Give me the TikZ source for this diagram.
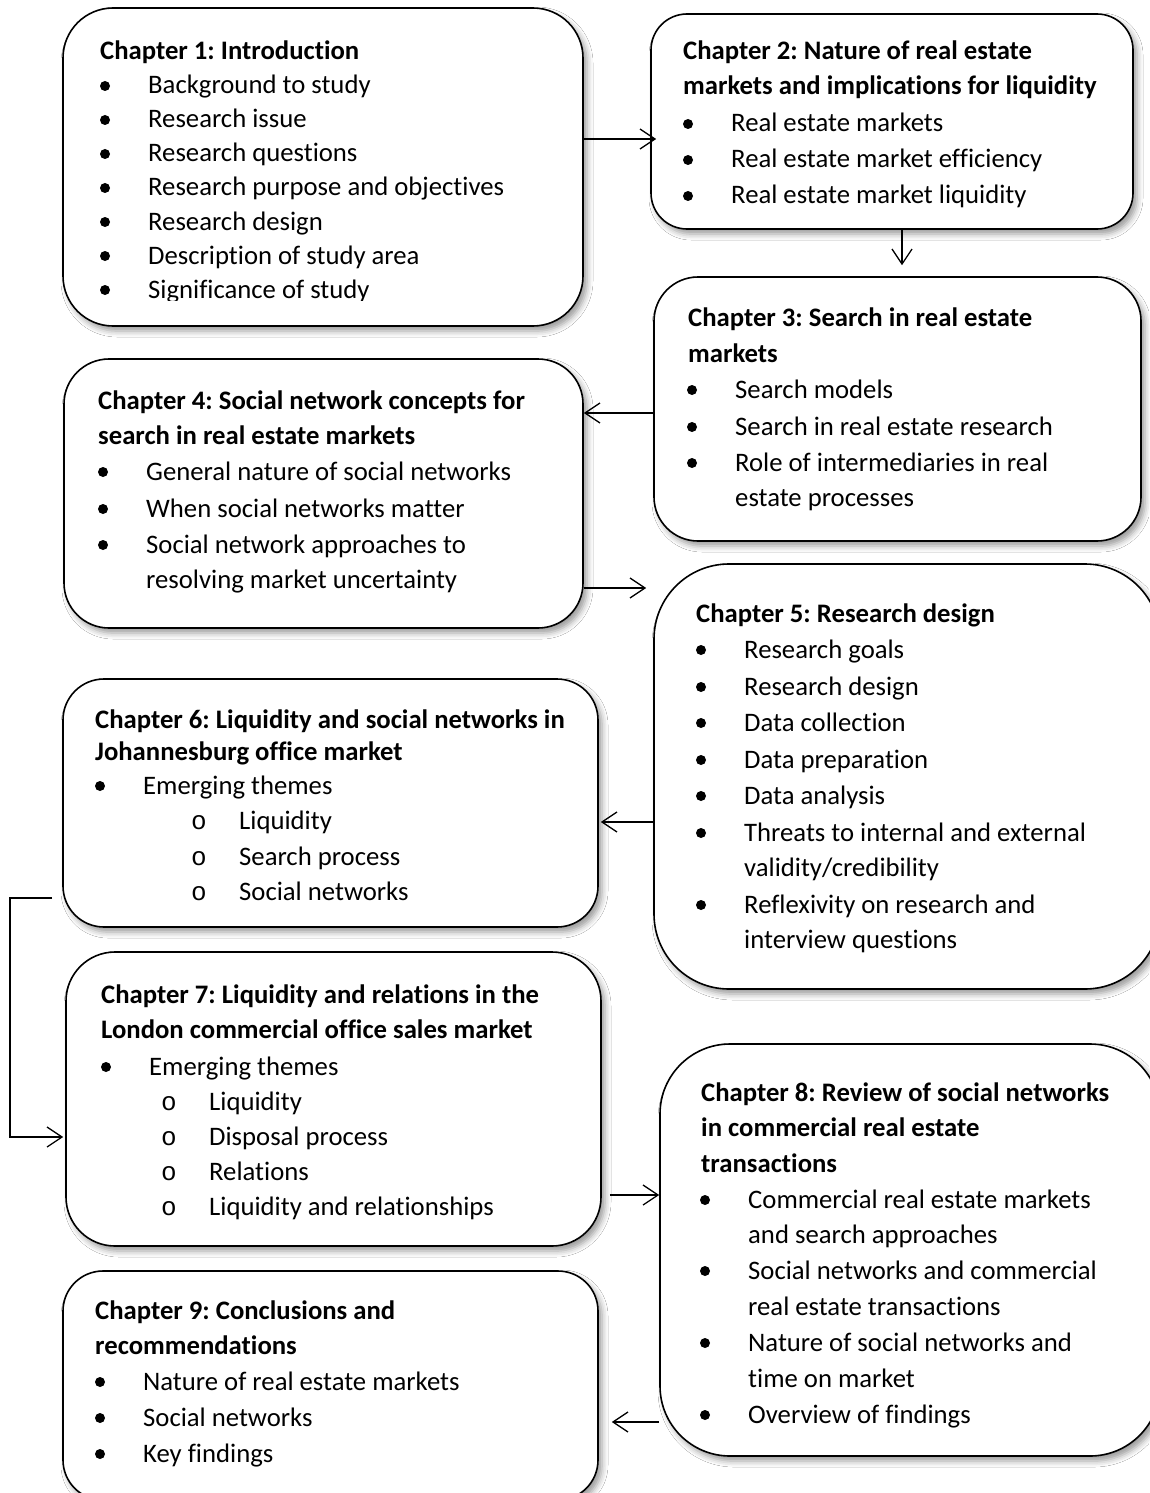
\documentclass[tikz,border=0pt]{standalone}
\usepackage{fontspec}
\setmainfont{Carlito}[Ligatures=NoCommon]
\newfontfamily\monofont{Liberation Mono}
\usetikzlibrary{arrows.meta,shadows.blur,fit}
\frenchspacing

\tikzset{
  chap/.style={draw=black, line width=1.6bp, fill=white, inner sep=0pt,
    rounded corners=#1,
    blur shadow={shadow xshift=4bp, shadow yshift=-5bp,
      shadow blur radius=6bp, shadow opacity=40}},
  txt/.style={anchor=base west, inner sep=0pt,
    font=\fontsize{26.7bp}{31bp}\selectfont},
  hdt/.style={txt, font=\fontsize{26.7bp}{31bp}\selectfont\bfseries},
  dot/.style={circle, fill=black, inner sep=0pt, minimum size=10bp},
  subo/.style={anchor=base, inner sep=0pt,
    font=\monofont\fontsize{26bp}{26bp}\selectfont},
  arr/.style={line width=1.3bp,
    -{Straight Barb[length=15bp,width=20bp,line width=1.3bp]}},
}

% line helpers: name, x, baseline y, text
\newcommand\hdln[4]{\node[hdt] (#1) at (#2,#3) {#4};}
\newcommand\bulln[4]{\node[txt] (#1) at (#2,#3) {#4};
  \node[dot] (#1-b) at ([xshift=-43bp,yshift=8bp]#1.base west) {};}
\newcommand\subln[4]{\node[txt] (#1) at (#2,#3) {#4};
  \node[subo] (#1-b) at ([xshift=-40bp]#1.base west) {o};}
\newcommand\plainln[4]{\node[txt] (#1) at (#2,#3) {#4};}

\begin{document}
\begin{tikzpicture}[x=1bp, y=-1bp]
\useasboundingbox (0,0) rectangle (1149,1493);
\fill[white] (0,0) rectangle (1149,1493);

% chapter boxes
\node[chap=50bp, fit={(63,8) (583,326)}] (c1) {};
\node[chap=36bp, fit={(651,14) (1133,229)}] (c2) {};
\node[chap=44bp, fit={(654,277) (1141,541)}] (c3) {};
\node[chap=45bp, fit={(64,359) (583,628)}] (c4) {};
\node[chap=75bp, fit={(654,564) (1160,989)}] (c5) {};
\node[chap=41bp, fit={(63,679) (598,927)}] (c6) {};
\node[chap=49bp, fit={(66,952) (601,1246)}] (c7) {};
\node[chap=70bp, fit={(660,1044) (1160,1456)}] (c8) {};
\node[chap=40bp, fit={(63,1271) (598,1500)}] (c9) {};

% Chapter 1 (text cut at the bottom of its frame)
\begin{scope}
\clip (63,8) rectangle (583,300);
\hdln{t1h}{100}{60}{Chapter 1: Introduction}
\bulln{t1a}{148}{94}{Background to study}
\bulln{t1b}{148}{128}{Research issue}
\bulln{t1c}{148}{162}{Research questions}
\bulln{t1d}{148}{196}{Research purpose and objectives}
\bulln{t1e}{148}{230}{Research design}
\bulln{t1f}{148}{264}{Description of study area}
\bulln{t1g}{148}{298}{Significance of study}
\end{scope}

% Chapter 2
\hdln{t2h}{683}{60}{Chapter 2: Nature of real estate}
\hdln{t2i}{683}{95}{markets and implications for liquidity}
\bulln{t2a}{731}{132}{Real estate markets}
\bulln{t2b}{731}{168}{Real estate market efficiency}
\bulln{t2c}{731}{204}{Real estate market liquidity}

% Chapter 3
\hdln{t3h}{688}{326}{Chapter 3: Search in real estate}
\hdln{t3i}{688}{362}{markets}
\bulln{t3a}{735}{398}{Search models}
\bulln{t3b}{735}{435}{Search in real estate research}
\bulln{t3c}{735}{471}{Role of intermediaries in real}
\plainln{t3d}{735}{506}{estate processes}

% Chapter 4
\hdln{t4h}{98}{409}{Chapter 4: Social network concepts for}
\hdln{t4i}{98}{444}{search in real estate markets}
\bulln{t4a}{146}{480}{General nature of social networks}
\bulln{t4b}{146}{517}{When social networks matter}
\bulln{t4c}{146}{553}{Social network approaches to}
\plainln{t4d}{146}{588}{resolving market uncertainty}

% Chapter 5
\hdln{t5h}{696}{622}{Chapter 5: Research design}
\bulln{t5a}{744}{658}{Research goals}
\bulln{t5b}{744}{695}{Research design}
\bulln{t5c}{744}{731}{Data collection}
\bulln{t5d}{744}{768}{Data preparation}
\bulln{t5e}{744}{804}{Data analysis}
\bulln{t5f}{744}{841}{Threats to internal and external}
\plainln{t5g}{744}{876}{validity/credibility}
\bulln{t5i}{744}{913}{Reflexivity on research and}
\plainln{t5j}{744}{948}{interview questions}

% Chapter 6
\hdln{t6h}{95}{728}{Chapter 6: Liquidity and social networks in}
\hdln{t6i}{95}{760}{Johannesburg office market}
\bulln{t6a}{143}{794}{Emerging themes}
\subln{t6b}{239}{829}{Liquidity}
\subln{t6c}{239}{865}{Search process}
\subln{t6d}{239}{900}{Social networks}

% Chapter 7
\hdln{t7h}{101}{1003}{Chapter 7: Liquidity and relations in the}
\hdln{t7i}{101}{1038}{London commercial office sales market}
\bulln{t7a}{149}{1075}{Emerging themes}
\subln{t7b}{209}{1110}{Liquidity}
\subln{t7c}{209}{1145}{Disposal process}
\subln{t7d}{209}{1180}{Relations}
\subln{t7e}{209}{1215}{Liquidity and relationships}

% Chapter 8
\hdln{t8h}{701}{1101}{Chapter 8: Review of social networks}
\hdln{t8i}{701}{1136}{in commercial real estate}
\hdln{t8j}{701}{1172}{transactions}
\bulln{t8a}{748}{1208}{Commercial real estate markets}
\plainln{t8b}{748}{1243}{and search approaches}
\bulln{t8c}{748}{1279}{Social networks and commercial}
\plainln{t8d}{748}{1315}{real estate transactions}
\bulln{t8e}{748}{1351}{Nature of social networks and}
\plainln{t8f}{748}{1387}{time on market}
\bulln{t8g}{748}{1423}{Overview of findings}

% Chapter 9
\hdln{t9h}{95}{1319}{Chapter 9: Conclusions and}
\hdln{t9i}{95}{1354}{recommendations}
\bulln{t9a}{143}{1390}{Nature of real estate markets}
\bulln{t9b}{143}{1426}{Social networks}
\bulln{t9c}{143}{1462}{Key findings}

% connector heights
\coordinate (h12) at (0,139);
\coordinate (v23) at (902,0);
\coordinate (h34) at (0,413);
\coordinate (h45) at (0,588);
\coordinate (h56) at (0,822);
\coordinate (h67) at (0,898);
\coordinate (k67) at (10,1137);
\coordinate (h78) at (0,1195);
\coordinate (h89) at (0,1422);

% connectors
\draw[arr, shorten >=-6bp] (c1.east |- h12) -- (c2.west |- h12);
\draw[arr] (c2.south -| v23) -- ([yshift=11bp]c3.north -| v23);
\draw[arr] (c3.west |- h34) -- (c4.east |- h34);
\draw[arr, shorten >=7bp] (c4.east |- h45) -- (c5.west |- h45);
\draw[arr, shorten >=2bp] (c5.west |- h56) -- (c6.east |- h56);
\draw[arr, shorten <=10bp, shorten >=2bp] (c6.west |- h67) -| (k67) -- (c7.west |- k67);
\draw[arr, shorten <=8bp] (c7.east |- h78) -- (c8.west |- h78);
\draw[arr, shorten >=13bp] (c8.west |- h89) -- (c9.east |- h89);
\end{tikzpicture}
\end{document}
